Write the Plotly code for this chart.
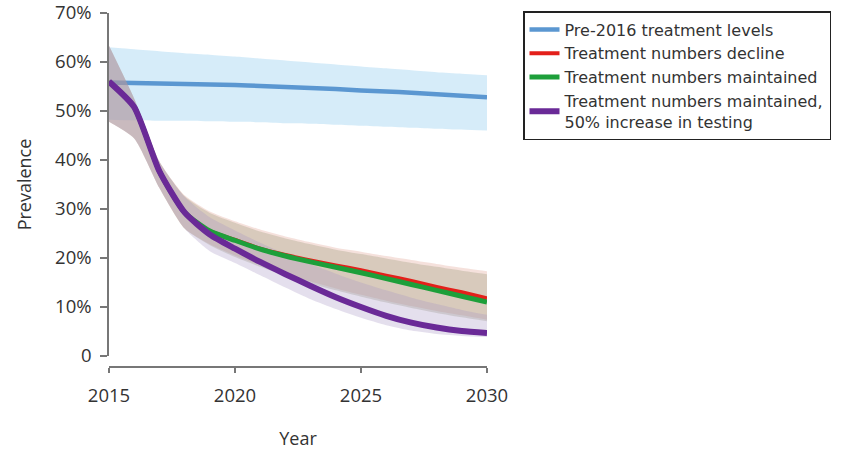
import plotly.graph_objects as go

years = list(range(2015, 2031))

# Central estimates (% prevalence)
pre2016 = [55.8, 55.7, 55.6, 55.5, 55.4, 55.3, 55.1, 54.9, 54.7, 54.5, 54.2, 54.0, 53.7, 53.4, 53.1, 52.8]
decline = [56.0, 50.8, 37.7, 29.3, 25.5, 23.7, 21.9, 20.6, 19.5, 18.5, 17.5, 16.4, 15.3, 14.1, 13.0, 11.8]
maintained = [56.0, 50.8, 37.7, 29.3, 25.5, 23.6, 21.8, 20.4, 19.2, 18.1, 17.0, 15.8, 14.6, 13.4, 12.2, 11.0]
testing = [56.0, 50.8, 37.7, 29.3, 24.8, 21.9, 19.2, 16.7, 14.3, 12.0, 10.0, 8.2, 6.8, 5.8, 5.1, 4.7]

# Uncertainty bands (% prevalence)
pre2016_hi = [63.0, 62.6, 62.2, 61.8, 61.5, 61.1, 60.7, 60.3, 59.9, 59.5, 59.1, 58.7, 58.3, 57.9, 57.6, 57.3]
pre2016_lo = [48.2, 48.1, 48.0, 48.0, 47.9, 47.8, 47.7, 47.5, 47.4, 47.2, 47.0, 46.8, 46.6, 46.4, 46.2, 46.0]
decline_hi = [63.3, 52.5, 39.7, 32.8, 29.5, 27.5, 25.8, 24.4, 23.2, 22.1, 21.3, 20.4, 19.6, 18.8, 18.0, 17.3]
decline_lo = [47.8, 44.4, 34.3, 26.0, 22.8, 20.5, 18.5, 16.8, 15.2, 13.8, 12.5, 11.3, 10.2, 9.2, 8.3, 7.4]
maintained_hi = [63.3, 52.5, 39.7, 32.6, 29.2, 27.2, 25.4, 24.0, 22.8, 21.7, 20.8, 19.9, 19.0, 18.2, 17.4, 16.7]
maintained_lo = [47.8, 44.4, 34.3, 26.0, 22.6, 20.2, 18.2, 16.4, 14.8, 13.4, 12.1, 10.9, 9.8, 8.8, 7.9, 7.1]
testing_hi = [63.3, 52.5, 39.7, 32.5, 28.3, 25.6, 23.1, 20.8, 18.7, 16.8, 15.0, 13.4, 11.9, 10.6, 9.4, 8.4]
testing_lo = [47.8, 44.4, 34.3, 26.0, 21.4, 19.0, 16.5, 14.0, 11.6, 9.6, 7.8, 6.3, 5.2, 4.5, 4.1, 3.9]

y_ticks = [0, 10, 20, 30, 40, 50, 60, 70]
y_ticklabels = ["0", "10%", "20%", "30%", "40%", "50%", "60%", "70%"]
x_ticks = [2015, 2020, 2025, 2030]

names = ["Pre-2016 treatment levels", "Treatment numbers decline",
         "Treatment numbers maintained", "Treatment numbers maintained,<br>50% increase in testing"]

FONT = "Open Sans"
LFONT = "DejaVu Sans"
TXT = "#333333"
SMOOTH = 0.6

fig = go.Figure()


def band(hi, lo, color):
    fig.add_trace(go.Scatter(x=years, y=hi, mode="lines", line=dict(width=0, shape="spline", smoothing=SMOOTH),
                             showlegend=False, hoverinfo="skip"))
    fig.add_trace(go.Scatter(x=years, y=lo, mode="lines", line=dict(width=0, shape="spline", smoothing=SMOOTH),
                             fill="tonexty", fillcolor=color, showlegend=False, hoverinfo="skip"))


def line(y, name, color, width):
    fig.add_trace(go.Scatter(x=years, y=y, mode="lines", name=name,
                             line=dict(color=color, width=width, shape="spline", smoothing=SMOOTH)))


band(pre2016_hi, pre2016_lo, "rgba(165,212,242,0.45)")
line(pre2016, names[0], "#5b97d1", 4.5)
band(decline_hi, decline_lo, "rgba(225,165,150,0.33)")
band(maintained_hi, maintained_lo, "rgba(150,150,115,0.30)")
band(testing_hi, testing_lo, "rgba(165,150,195,0.30)")
line(decline, names[1], "#e3201b", 4)
line(maintained, names[2], "#1d9f3a", 5)
line(testing, names[3], "#6a2a97", 6)

fig.update_layout(
    width=842, height=450,
    margin=dict(l=109, r=355, t=13, b=83, autoexpand=False),
    paper_bgcolor="white", plot_bgcolor="white",
    font=dict(family=FONT, color=TXT, size=18),
    legend=dict(xref="container", yref="container", x=523 / 842, y=1 - 11 / 450,
                xanchor="left", yanchor="top", traceorder="normal",
                bordercolor="#222222", borderwidth=1.5, bgcolor="white",
                font=dict(family=LFONT, size=16, color=TXT),
                tracegroupgap=0, itemwidth=30),
    xaxis=dict(range=[2015, 2030], tickvals=x_ticks, showgrid=False, zeroline=False,
               showline=True, linecolor="#777777", linewidth=1.5,
               ticks="outside", ticklen=5, tickcolor="#777777", tickwidth=1.5,
               tickfont=dict(size=18.5, color=TXT), ticklabelstandoff=7,
               anchor="free", position=0, automargin=False, ticklabeloverflow="allow",
               title=dict(text="Year", font=dict(size=18, color=TXT), standoff=30)),
    yaxis=dict(range=[0, 70], tickvals=y_ticks, ticktext=y_ticklabels,
               domain=[11 / 354, 1], showgrid=False, zeroline=False,
               showline=True, linecolor="#777777", linewidth=1.5,
               ticks="outside", ticklen=7, tickcolor="#777777", tickwidth=1.5,
               tickfont=dict(size=18.5, color=TXT), ticklabelstandoff=5, automargin=False,
               ticklabeloverflow="allow",
               title=dict(text="Prevalence", font=dict(size=18, color=TXT), standoff=19)),
)

fig.write_html("out.html", config={"displayModeBar": False},
               post_script="document.body.style.margin='0px';")
